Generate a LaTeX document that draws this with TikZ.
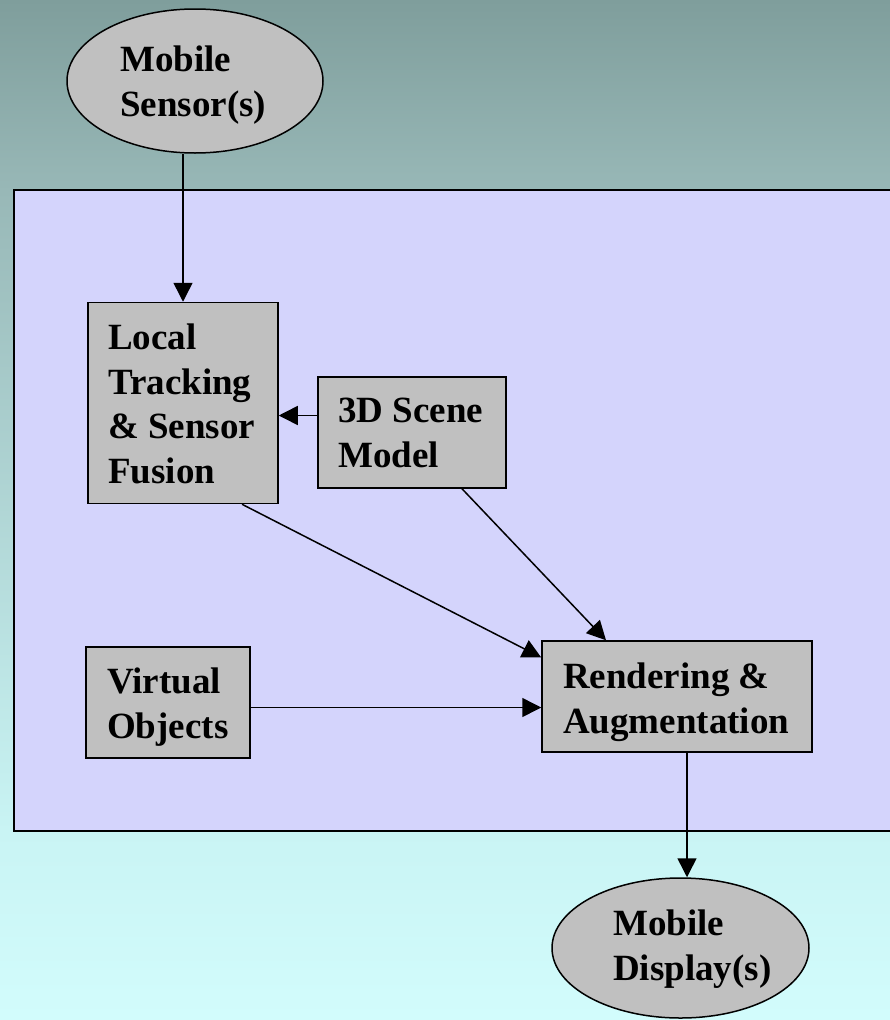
\documentclass[tikz,border=0pt]{standalone}
\usepackage{fontspec}
\setmainfont{Liberation Serif}
\usetikzlibrary{shapes.geometric,arrows.meta,calc}
\definecolor{bgtop}{HTML}{7F9E9C}
\definecolor{bgmid}{HTML}{98B8B7}
\definecolor{bglow}{HTML}{C9F4F4}
\definecolor{bgbot}{HTML}{D2FCFC}
\definecolor{panel}{HTML}{D4D4FC}
\definecolor{boxgray}{HTML}{C0C0C0}
\tikzset{
  boxnode/.style={draw=black, line width=1.5pt, fill=boxgray, rectangle, inner sep=0pt},
  ellnode/.style={draw=black, line width=1.5pt, fill=boxgray, ellipse, inner sep=0pt},
  txt/.style={inner sep=0pt, align=left, anchor=north west, font=\fontsize{37}{44.5}\selectfont\bfseries},
  arr/.style={line width=1.5pt, -{Triangle[length=19pt,width=19pt]}}
}
\begin{document}
\begin{tikzpicture}[x=1pt,y=-1pt]
\useasboundingbox (0,0) rectangle (890,1020);
% background
\shade[top color=bgtop, bottom color=bgmid] (0,0) rectangle (890,191);
\shade[top color=bgmid, bottom color=bglow] (0,190) rectangle (890,831);
\shade[top color=bglow, bottom color=bgbot] (0,830) rectangle (890,1020);
% panel
\draw[line width=1.5pt, fill=panel] (14,190) rectangle (893,831);
% shapes
\node[ellnode, minimum width=256pt, minimum height=144pt] (sensor) at (195,81) {};
\node[boxnode, minimum width=190pt, minimum height=201pt] (local) at (183,403) {};
\node[boxnode, minimum width=188pt, minimum height=111pt] (scene) at (412,432.5) {};
\node[boxnode, minimum width=164pt, minimum height=111pt] (virtual) at (168,702.5) {};
\node[boxnode, minimum width=270pt, minimum height=111pt] (render) at (677,696.5) {};
\node[ellnode, minimum width=257pt, minimum height=140pt] (disp) at (680.5,948) {};
% texts
\node[txt] (sensort) at (120,46) {Mobile\\Sensor(s)};
\node[txt] (localt) at (108,324) {Local\\Tracking\\\& Sensor\\Fusion};
\node[txt] (scenet) at (338,398) {3D Scene\\Model};
\node[txt] (virtualt) at (107,668) {Virtual\\Objects};
\node[txt] (rendert) at (563,663) {Rendering \&\\Augmentation};
\node[txt] (dispt) at (613,910) {Mobile\\Display(s)};
% connectors
\draw[arr] (sensor.south -| local.north) -- (local.north);
\draw[arr] ([yshift=17pt]scene.west) -- ([yshift=17pt]scene.west -| local.east);
\draw[arr] ([xshift=59pt]local.south) -- ([yshift=39pt]render.west);
\draw[arr] ([xshift=50pt]scene.south) -- ([xshift=-71pt]render.north);
\draw[arr] ([yshift=-5pt]virtual.east) -- ([yshift=-5pt]virtual.east -| render.west);
\draw[arr] ([xshift=10pt]render.south) -- ([xshift=10pt]render.south |- disp.north);
\end{tikzpicture}
\end{document}
